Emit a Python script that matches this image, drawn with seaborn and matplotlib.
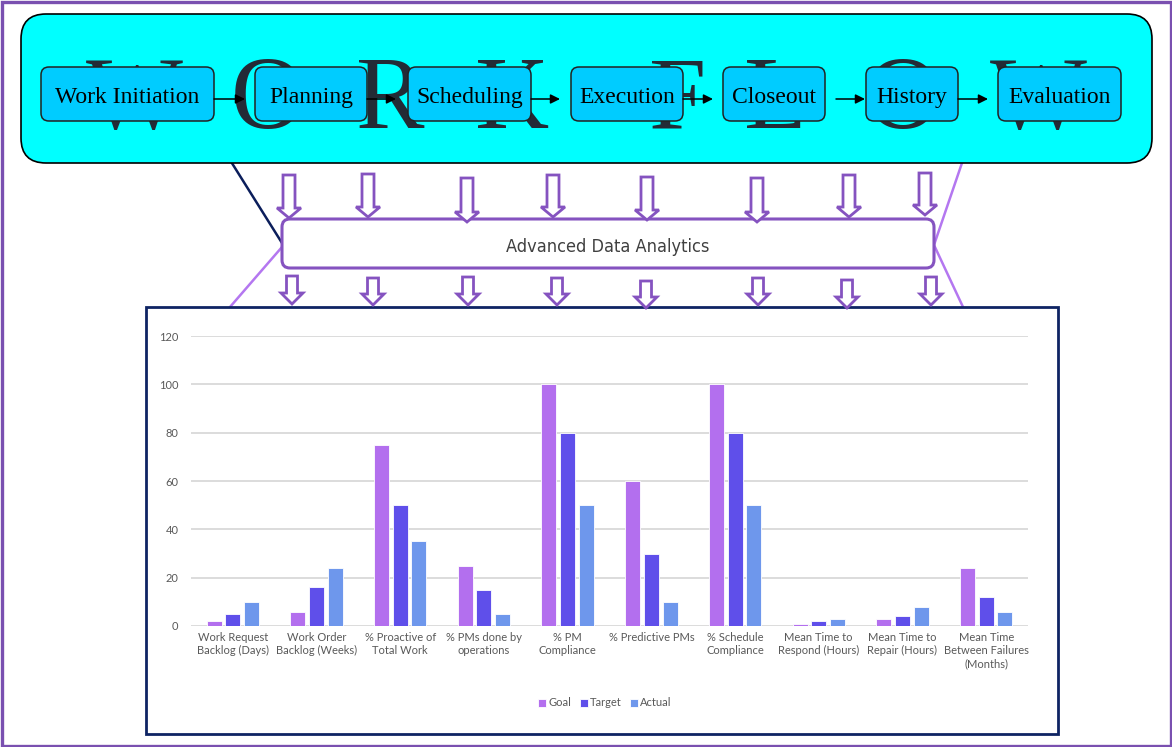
import pandas as pd
import matplotlib
matplotlib.use("Agg")
import matplotlib.pyplot as plt
import seaborn as sns
from matplotlib.patches import FancyBboxPatch, Rectangle, FancyArrow

# --- data ---
metrics = [
    "Work Request\nBacklog (Days)", "Work Order\nBacklog (Weeks)", "% Proactive of\nTotal Work",
    "% PMs done by\noperations", "% PM\nCompliance", "% Predictive PMs",
    "% Schedule\nCompliance", "Mean Time to\nRespond (Hours)", "Mean Time to\nRepair (Hours)",
    "Mean Time\nBetween Failures\n(Months)",
]
goal = [2, 6, 75, 25, 100, 60, 100, 1, 3, 24]
target = [5, 16, 50, 15, 80, 30, 80, 2, 4, 12]
actual = [10, 24, 35, 5, 50, 10, 50, 3, 8, 6]
series = ["Goal", "Target", "Actual"]
steps = ["Work Initiation", "Planning", "Scheduling", "Execution", "Closeout", "History", "Evaluation"]
word = list("WORKFLOW")

# --- layout (pixels) ---
W, H = 1172, 747
step_x = [(41, 214), (255, 367), (408, 531), (571, 683), (723, 825), (866, 958), (998, 1121)]
flow_arrows = [(214, 245), (367, 396), (531, 560), (683, 713), (836, 865), (958, 988)]
letter_x = [134, 268, 390, 512, 678, 775, 903, 1038]
top_arrows = [(289, 175, 218), (368, 174, 217), (467, 178, 222), (553, 175, 217),
              (647, 177, 220), (757, 178, 222), (849, 175, 217), (925, 173, 215)]
bot_arrows = [(292, 276, 304), (373, 278, 305), (468, 277, 305), (557, 278, 305),
              (646, 281, 308), (758, 278, 305), (847, 280, 308), (931, 277, 305)]
colors = ["#B36FEE", "#5F4FEA", "#6E97EC"]
purple = "#8553C0"
gray = "#595959"

df = pd.DataFrame({
    "Metric": metrics * 3,
    "Series": [s for s in series for _ in metrics],
    "Value": goal + target + actual,
})

sns.set_style("white")
fig = plt.figure(figsize=(W / 100, H / 100), dpi=100)

# overlay axes in pixel coordinates
ov = fig.add_axes([0, 0, 1, 1])
ov.set_xlim(0, W)
ov.set_ylim(H, 0)
ov.axis("off")

ov.add_patch(Rectangle((1.5, 1.5), W - 3, H - 3, fill=False, ec="#7A50B0", lw=2.4, zorder=0))

# connector lines
ov.plot([230, 282], [160, 243], color="#0B1E5B", lw=1.8, zorder=1)
ov.plot([282, 230], [247, 307], color="#B477F0", lw=1.8, zorder=1)
ov.plot([963, 934, 963], [160, 245, 307], color="#B477F0", lw=1.8, zorder=1)

# cyan workflow banner
ov.add_patch(FancyBboxPatch((21, 14), 1131, 149, boxstyle="round,pad=0,rounding_size=25",
                            fc="#00FFFF", ec="black", lw=1.2, zorder=1))
for ch, x in zip(word, letter_x):
    ov.text(x, 128, ch, fontsize=74, family="Liberation Serif", color="#232B36",
            ha="center", va="baseline", zorder=2)
for name, (x0, x1) in zip(steps, step_x):
    ov.add_patch(FancyBboxPatch((x0, 67), x1 - x0, 54, boxstyle="round,pad=0,rounding_size=8",
                                fc="#00CCFF", ec="#222222", lw=1.1, zorder=3))
    ov.text((x0 + x1) / 2, 103, name, fontsize=17, family="Liberation Serif",
            color="black", ha="center", va="baseline", zorder=4)
for x0, x1 in flow_arrows:
    ov.annotate("", xy=(x1, 99), xytext=(x0, 99), zorder=5,
                arrowprops=dict(arrowstyle="-|>", color="black", lw=1.1,
                                mutation_scale=14, shrinkA=0, shrinkB=0))

# analytics box
ov.add_patch(FancyBboxPatch((282, 219), 652, 49, boxstyle="round,pad=0,rounding_size=8",
                            fc="white", ec=purple, lw=2.2, zorder=3))
ov.text(608, 252, "Advanced Data Analytics", fontsize=13, family="DejaVu Sans",
        fontstretch="condensed", fontweight="light", color="#404040",
        ha="center", va="baseline", zorder=4)

for x, y0, y1 in top_arrows:
    ov.add_patch(FancyArrow(x, y0, 0, y1 - y0, width=12, head_width=24, head_length=10,
                            length_includes_head=True, fc="white", ec=purple, lw=2, zorder=4))
for x, y0, y1 in bot_arrows:
    ov.add_patch(FancyArrow(x, y0, 0, y1 - y0, width=11, head_width=22, head_length=11,
                            length_includes_head=True, fc="white", ec=purple, lw=2, zorder=4))

# chart panel
ov.add_patch(Rectangle((146, 307), 912, 427, fc="white", ec="#0E2463", lw=2, zorder=3))

# bar chart
ax = fig.add_axes([191 / W, (H - 626) / H, 837 / W, 290 / H])
ax.set_facecolor("none")
sns.barplot(data=df, x="Metric", y="Value", hue="Series", palette=colors, saturation=1,
            width=0.67, gap=0.2, edgecolor="white", linewidth=0.6, ax=ax)
ax.set_ylim(0, 120)
ax.set_yticks(range(0, 121, 20))
ax.yaxis.grid(True, color="#D9D9D9", lw=1.3)
ax.set_axisbelow(True)
sns.despine(ax=ax, left=True, bottom=True)
ax.set_xlabel("")
ax.set_ylabel("")
ax.tick_params(axis="y", length=0, pad=9, labelsize=8, labelcolor=gray)
ax.tick_params(axis="x", length=0, pad=4, labelsize=8, labelcolor=gray)
for lab in ax.get_xticklabels() + ax.get_yticklabels():
    lab.set_family("Lato")
for lab in ax.get_xticklabels():
    lab.set_linespacing(1.25)

sns.move_legend(ax, loc="center", bbox_to_anchor=(605 / W, 1 - 703 / H),
                bbox_transform=fig.transFigure, ncol=3, frameon=False, title=None,
                handlelength=0.7, handleheight=0.7, handletextpad=0.2, columnspacing=0.8,
                prop={"family": "Lato", "size": 8})
for t in ax.get_legend().get_texts():
    t.set_color(gray)

fig.savefig("out.png", dpi=100)
